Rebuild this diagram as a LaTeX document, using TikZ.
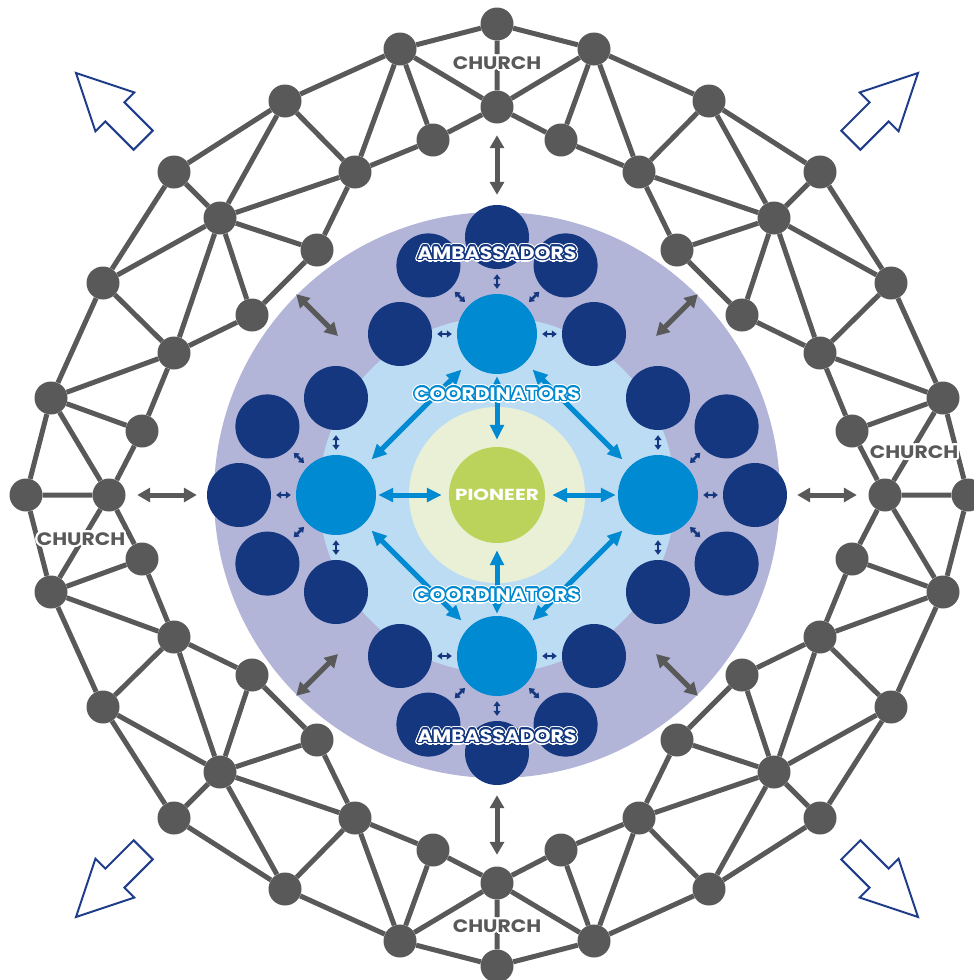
\documentclass[tikz,border=0pt]{standalone}
\usepackage{fontspec}
\setmainfont{Poppins}
\newfontfamily\lblfont{Poppins}[FakeStretch=1.13]
\newfontfamily\piofont{Poppins}[FakeStretch=1.25]
\usetikzlibrary{arrows.meta,backgrounds}
\definecolor{netgray}{HTML}{595959}
\definecolor{lav}{HTML}{B3B5D8}
\definecolor{lblue}{HTML}{BCDCF4}
\definecolor{pale}{HTML}{E9F0D6}
\definecolor{pgreen}{HTML}{BBD35B}
\definecolor{navy}{HTML}{14377F}
\definecolor{cblue}{HTML}{008AD2}
\definecolor{arrnavy}{HTML}{1F3D8A}
\newcommand\ringcopies[3]{%
  \foreach \kk in {0,...,15}{%
    \pgfmathsetlengthmacro\rdx{#2*cos(22.5*\kk)}%
    \pgfmathsetlengthmacro\rdy{#2*sin(22.5*\kk)}%
    \rlap{\kern\rdx\raise\rdy\hbox{\color{#1}#3}}}}
\newcommand\ringtext[4]{\ringcopies{#1}{#2}{#4}\textcolor{#3}{#4}}
\newcommand\halotext[6]{\ringcopies{#1}{#2}{#6}\ringcopies{#3}{#4}{#6}\textcolor{#5}{#6}}
\tikzset{
  netline/.style={draw=netgray, line width=5pt},
  netnode/.style={circle, fill=netgray, minimum size=33pt, inner sep=0pt},
  disc/.style={circle, inner sep=0pt},
  amb/.style={circle, fill=navy, minimum size=64pt, inner sep=0pt},
  coordc/.style={circle, fill=cblue, minimum size=80pt, inner sep=0pt},
  bigblue/.style={draw=cblue, line width=5pt, arrows={Triangle[length=15pt,width=13.5pt]-Triangle[length=15pt,width=13.5pt]}},
  grayarr/.style={draw=netgray, line width=5pt, arrows={Triangle[length=13pt,width=14pt]-Triangle[length=13pt,width=14pt]}},
  smallarr/.style={draw=navy, line width=2.5pt, arrows={Triangle[length=5pt,width=7pt]-Triangle[length=5pt,width=7pt]}},
  cornerarrow/.style={draw=arrnavy, fill=white, line width=2pt, line join=miter},
  lbl/.style={inner sep=0pt, font=\lblfont\bfseries\fontsize{18pt}{18pt}\selectfont},
  pio/.style={inner sep=0pt, font=\piofont\bfseries\fontsize{16pt}{16pt}\selectfont, text=white},
}
\begin{document}
\begin{tikzpicture}[x=1pt,y=-1pt]
\useasboundingbox (0,0) rectangle (974,980);
% ---------- network nodes ----------
\foreach \q in {0,1,2,3}{
 \begin{scope}[shift={(497,495)},rotate=90*\q]
  \node[netnode] (O\q) at (0,-471) {};
  \node[netnode] (H\q) at (0,-388) {};
  \node[netnode] (Ta\q) at (-97,-446) {};
  \node[netnode] (Ia\q) at (-64,-355) {};
  \node[netnode] (Aa\q) at (-212,-394) {};
  \node[netnode] (Ba\q) at (-142,-323) {};
  \node[netnode] (Fa\q) at (-180,-245) {};
  \node[netnode] (D\q) at (-277,-277) {};
  \node[netnode] (E\q) at (-323,-323) {};
  \node[netnode] (Fb\q) at (-245,-180) {};
  \node[netnode] (Bb\q) at (-323,-142) {};
  \node[netnode] (Ab\q) at (-394,-212) {};
  \node[netnode] (Tb\q) at (-446,-97) {};
  \node[netnode] (Ib\q) at (-355,-64) {};
  \coordinate (G\q) at (-159,-159);
 \end{scope}
}
% ---------- network edges ----------
\begin{scope}[on background layer]
\foreach \q in {0,1,2,3}{
  \pgfmathtruncatemacro\nq{mod(\q+1,4)}
  \draw[netline] (O\q)--(H\q) (O\q)--(Ta\q) (Ta\q)--(H\q) (H\q)--(Ia\q)
    (Ta\q)--(Ia\q) (Ta\q)--(Aa\q) (Ta\q)--(Ba\q) (Ia\q)--(Ba\q) (Aa\q)--(Ba\q)
    (Aa\q)--(E\q) (Aa\q)--(D\q) (Ba\q)--(D\q) (Ba\q)--(Fa\q) (E\q)--(D\q)
    (D\q)--(Fa\q) (Fa\q)--(Fb\q) (D\q)--(Fb\q) (D\q)--(Bb\q) (D\q)--(Ab\q)
    (E\q)--(Ab\q) (Ab\q)--(Bb\q) (Bb\q)--(Fb\q) (Tb\q)--(Ab\q) (Tb\q)--(Bb\q)
    (Ib\q)--(Bb\q) (Tb\q)--(Ib\q) (Tb\q)--(O\nq) (Tb\q)--(H\nq) (Ib\q)--(H\nq);
}
\end{scope}
% ---------- church labels ----------
\node[lbl] (ch0) at (497,63) {\ringtext{white}{2pt}{netgray}{CHURCH}};
\node[lbl] (ch1) at (81,539) {\ringtext{white}{2pt}{netgray}{CHURCH}};
\node[lbl] (ch2) at (497,926) {\ringtext{white}{2pt}{netgray}{CHURCH}};
\node[lbl] (ch3) at (914,452) {\ringtext{white}{2pt}{netgray}{CHURCH}};
% ---------- corner arrows ----------
\foreach \px/\py/\ang in {76/73/135, 918/73/45, 76/917/225, 918/917/315}{
  \draw[cornerarrow, shift={(\px,\py)}, rotate=\ang]
    (0,0) -- (-55,27.5) -- (-55,13.5) -- (-95,13.5) -- (-95,-13.5)
    -- (-55,-13.5) -- (-55,-27.5) -- cycle;
}
% ---------- inner discs ----------
\node[disc, fill=lav, minimum size=566pt] (bgl) at (497,495) {};
\node[disc, fill=lblue, minimum size=356pt] (bgb) at (497,495) {};
\foreach \q in {0,1,2,3}{
 \begin{scope}[shift={(497,495)},rotate=90*\q]
  \node[amb] (M\q a) at (-97,-161) {};
  \node[amb] (M\q b) at (-68.6,-229.6) {};
  \node[amb] (M\q c) at (0,-258) {};
  \node[amb] (M\q d) at (68.6,-229.6) {};
  \node[amb] (M\q e) at (97,-161) {};
  \node[coordc] (C\q) at (0,-161) {};
 \end{scope}
}
\node[disc, fill=pale, minimum size=176pt] (bgp) at (497,495) {};
\node[disc, fill=pgreen, minimum size=96pt] (pion) at (497,495) {};
% ---------- arrows ----------
\foreach \q in {0,1,2,3}{
  \pgfmathtruncatemacro\nq{mod(\q+1,4)}
  \draw[bigblue, shorten <=2pt, shorten >=7pt] (C\q) -- (pion);
  \draw[bigblue, shorten <=10pt, shorten >=10pt] (C\q) -- (C\nq);
  \foreach \s in {a,b,c,d,e}{
    \draw[smallarr, shorten <=5pt, shorten >=5pt] (C\q) -- (M\q\s);
  }
  \draw[grayarr, shorten <=11.5pt, shorten >=10pt] (H\q) -- (M\q c);
  \draw[grayarr, shorten <=91pt] (D\q) -- (G\q);
}
% ---------- labels ----------
\node[pio] (piolabel) at (pion) {PIONEER};
\node[lbl] (am0) at (497,253) {\halotext{white}{2.8pt}{navy}{1.5pt}{white}{AMBASSADORS}};
\node[lbl] (am1) at (497,736) {\halotext{white}{2.8pt}{navy}{1.5pt}{white}{AMBASSADORS}};
\node[lbl] (co0) at (497,394) {\halotext{white}{2.8pt}{cblue}{1.5pt}{white}{COORDINATORS}};
\node[lbl] (co1) at (497,595) {\halotext{white}{2.8pt}{cblue}{1.5pt}{white}{COORDINATORS}};
\end{tikzpicture}
\end{document}
